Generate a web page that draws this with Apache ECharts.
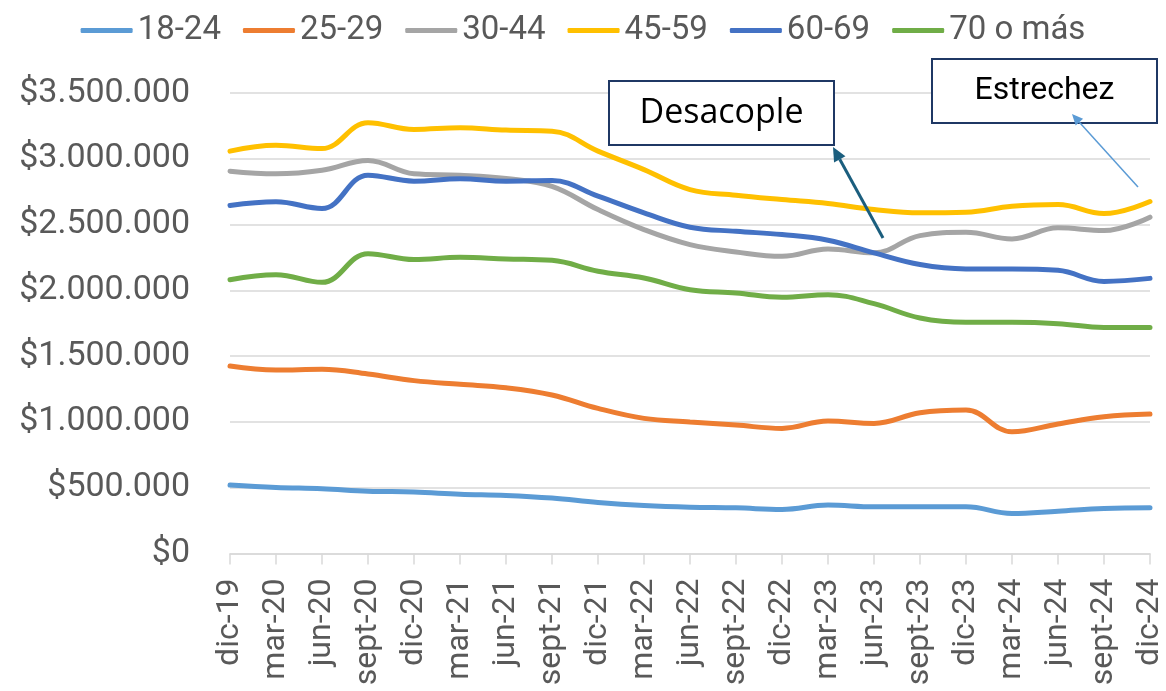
<!DOCTYPE html>
<html>
<head>
<meta charset="UTF-8">
<title>Ingreso por tramo de edad</title>
<script src="https://cdn.jsdelivr.net/npm/echarts@6/dist/echarts.min.js"></script>
<style>
  html, body { margin: 0; padding: 0; background: #fff; }
  #main { width: 1166px; height: 691px; }
</style>
</head>
<body>
<div id="main"></div>
<script>
// categorias trimestrales
var periodos = ['dic-19','mar-20','jun-20','sept-20','dic-20','mar-21','jun-21','sept-21','dic-21','mar-22','jun-22','sept-22','dic-22','mar-23','jun-23','sept-23','dic-23','mar-24','jun-24','sept-24','dic-24'];

var tramos = ['18-24', '25-29', '30-44', '45-59', '60-69', '70 o más'];
var colores = ['#5B9BD5', '#ED7D31', '#A5A5A5', '#FFC000', '#4472C4', '#70AD47'];

var t18_24 = [520000,502000,492000,474000,467000,451000,441000,421000,388000,365000,352000,347000,335000,368000,355000,355000,355000,304000,322000,342000,347000];
var t25_29 = [1425000,1395000,1400000,1364000,1314000,1286000,1260000,1205000,1103000,1027000,1000000,976000,951000,1007000,989000,1070000,1090000,925000,984000,1040000,1060000];
var t30_44 = [2906000,2886000,2913000,2987000,2886000,2875000,2850000,2790000,2614000,2462000,2348000,2292000,2259000,2315000,2285000,2416000,2441000,2391000,2475000,2454000,2556000];
var t45_59 = [3058000,3103000,3078000,3274000,3223000,3236000,3218000,3210000,3058000,2918000,2766000,2723000,2690000,2660000,2614000,2589000,2594000,2639000,2652000,2584000,2675000];
var t60_69 = [2645000,2673000,2622000,2875000,2830000,2848000,2830000,2835000,2716000,2589000,2480000,2449000,2424000,2381000,2285000,2196000,2163000,2163000,2152000,2068000,2091000];
var t70mas = [2081000,2119000,2061000,2279000,2234000,2251000,2239000,2228000,2145000,2094000,2005000,1980000,1947000,1967000,1899000,1790000,1757000,1757000,1747000,1718000,1718000];

var valores = [t18_24, t25_29, t30_44, t45_59, t60_69, t70mas];

var fuente = 'Roboto';
var gris = '#595959';

function pesos(v) {
  return '$' + String(v).replace(/\B(?=(\d{3})+(?!\d))/g, '.');
}

// flecha = linea + punta triangular
function flecha(x1, y1, x2, y2, color, ancho, largo, abierto) {
  var ang = Math.atan2(y2 - y1, x2 - x1);
  var bx = x2 - largo * Math.cos(ang), by = y2 - largo * Math.sin(ang);
  var nx = -Math.sin(ang) * abierto, ny = Math.cos(ang) * abierto;
  return [
    { type: 'line', z: 100, shape: { x1: x1, y1: y1, x2: bx, y2: by },
      style: { stroke: color, lineWidth: ancho } },
    { type: 'polygon', z: 100, shape: { points: [[x2, y2], [bx + nx, by + ny], [bx - nx, by - ny]] },
      style: { fill: color } }
  ];
}

function caja(x, y, w, h, texto, fam, size) {
  return [
    { type: 'rect', z: 100, shape: { x: x, y: y, width: w, height: h },
      style: { fill: '#fff', stroke: '#1F3864', lineWidth: 2 } },
    { type: 'text', z: 101, x: x + w / 2, y: y + h / 2,
      style: { text: texto, fill: '#000', font: size + 'px "' + fam + '"', align: 'center', verticalAlign: 'middle' } }
  ];
}

var chart = echarts.init(document.getElementById('main'));

var series = tramos.map(function (nombre, i) {
  return {
    name: nombre,
    type: 'line',
    data: valores[i],
    smooth: 0.4,
    showSymbol: false,
    lineStyle: { width: 5, color: colores[i], cap: 'round' },
    itemStyle: { color: colores[i] },
    z: 2 + i
  };
});

var graficos = []
  .concat(caja(609, 81, 225, 64, 'Desacople', 'Open Sans', 34))
  .concat(caja(932, 59, 225, 64, 'Estrechez', 'Roboto', 32))
  .concat(flecha(883, 238, 833, 147, '#1B5E7E', 3, 14, 6.5))
  .concat(flecha(1138, 187, 1072, 114, '#5B9BD5', 1.5, 11, 5));

var option = {
  animation: false,
  color: colores,
  textStyle: { fontFamily: fuente },
  legend: {
    top: 9,
    left: 'center',
    data: tramos,
    icon: 'roundRect',
    itemWidth: 52,
    itemHeight: 5,
    itemGap: 22,
    textStyle: { fontFamily: fuente, fontSize: 33, color: gris }
  },
  grid: { left: 230, right: 13, top: 93, bottom: 137.5, containLabel: false },
  xAxis: {
    type: 'category',
    data: periodos,
    boundaryGap: false,
    axisLine: { lineStyle: { color: '#D9D9D9', width: 1.5 } },
    axisTick: { show: true, length: 11, lineStyle: { color: '#D9D9D9', width: 1.5 } },
    axisLabel: { rotate: 90, margin: 25, fontSize: 32, color: gris, fontFamily: fuente, interval: 0 },
    splitLine: { show: false }
  },
  yAxis: {
    type: 'value',
    min: 0,
    max: 3500000,
    interval: 500000,
    axisLine: { show: false },
    axisTick: { show: false },
    axisLabel: { formatter: pesos, fontSize: 34, color: gris, fontFamily: fuente, margin: 40 },
    splitLine: { lineStyle: { color: '#D9D9D9', width: 1.5 } }
  },
  series: series,
  graphic: graficos
};

chart.setOption(option);
</script>
</body>
</html>
